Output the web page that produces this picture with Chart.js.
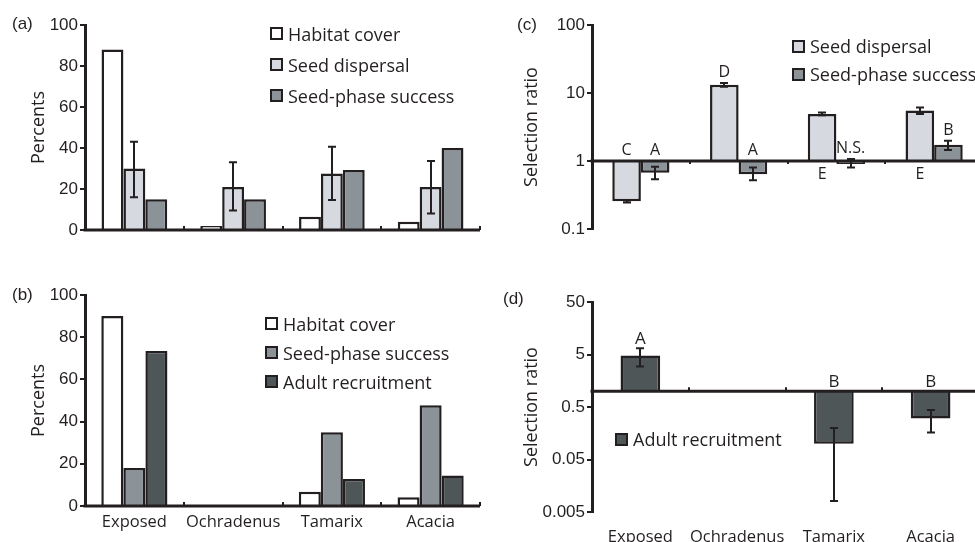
<!DOCTYPE html>
<html>
<head>
<meta charset="utf-8">
<script src="https://cdn.jsdelivr.net/npm/chart.js@4.4.1/dist/chart.umd.min.js"></script>
<style>
  body { margin: 0; width: 975px; height: 542px; overflow: hidden; position: relative; background: #fff; }
  canvas { position: absolute; }
  .panel { position: absolute; font: 17px "Liberation Sans", Arial, sans-serif; color: #231f20; line-height: 20px; }
  .legend { position: absolute; font: 18px "Open Sans", sans-serif; color: #231f20; white-space: nowrap; }
  .legend .row { display: flex; align-items: center; }
  .legend .sw { display: inline-block; width: 13px; height: 13px; box-sizing: border-box; border: 2px solid #231f20; }
</style>
</head>
<body>
<canvas id="chartA" width="490" height="250" style="left:0;top:0"></canvas>
<canvas id="chartB" width="490" height="262" style="left:0;top:280px"></canvas>
<canvas id="chartC" width="490" height="250" style="left:500px;top:0"></canvas>
<canvas id="chartD" width="490" height="280" style="left:500px;top:280px"></canvas>

<div class="panel" style="left:12px;top:14px">(a)</div>
<div class="panel" style="left:12px;top:285px">(b)</div>
<div class="panel" style="left:517px;top:15px">(c)</div>
<div class="panel" style="left:503px;top:289px">(d)</div>

<div class="legend" id="legA" style="left:270px;top:18px"></div>
<div class="legend" id="legB" style="left:265px;top:309px"></div>
<div class="legend" id="legC" style="left:792px;top:32px"></div>
<div class="legend" id="legD" style="left:615px;top:425px"></div>

<script>
// categories
const sites = ["Exposed", "Ochradenus", "Tamarix", "Acacia"];

// (a) percents
const aHabitat = [88, 2, 6.5, 4];
const aDispersal = [30, 21, 27.6, 21];
const aDispersalLow = [16, 9.5, 14.6, 8];
const aDispersalHigh = [43, 33, 40.6, 33.7];
const aSeedPhase = [15, 15, 29.3, 40];

// (b) percents
const bHabitat = [90, 0, 6.8, 4.1];
const bSeedPhase = [18, 0, 35, 47.8];
const bAdult = [73.5, 0, 12.8, 14.4];

// (c) selection ratios
const cDispersal = [0.255, 13.2, 4.93, 5.52];
const cDispersalLow = [0.245, 12.4, 4.7, 4.9];
const cDispersalHigh = [0.265, 14.0, 5.15, 6.1];
const cSeedPhase = [0.67, 0.64, 0.90, 1.74];
const cSeedPhaseLow = [0.54, 0.52, 0.80, 1.45];
const cSeedPhaseHigh = [0.82, 0.80, 1.07, 1.99];
const cDispersalLetters = ["C", "D", "E", "E"];
const cDispersalLetterBelow = [false, false, true, true];
const cSeedPhaseLetters = ["A", "A", "N.S.", "B"];

// (d) selection ratios
const dAdult = [4.8, null, 0.1, 0.303];
const dAdultLow = [2.95, null, 0.0081, 0.164];
const dAdultHigh = [6.6, null, 0.2, 0.44];
const dLetters = ["A", "", "B", "B"];

// tick labels
const percentTicks = [0, 20, 40, 60, 80, 100];
const cTicks = [0.1, 1, 10, 100];
const dTicks = [0.005, 0.05, 0.5, 5, 50];

const ink = '#231f20';
const white = '#ffffff', light = '#d6d9df', mid = '#8b9298', dark = '#4e5658';

Chart.defaults.font.family = '"Open Sans", sans-serif';
Chart.defaults.color = ink;

// axis line at the base value, with small marks between categories
const baseLine = {
  id: 'baseLine',
  afterDatasetsDraw(chart, args, opts) {
    const { ctx, chartArea, scales: { x, y } } = chart;
    const py = y.getPixelForValue(opts.value);
    ctx.save();
    ctx.strokeStyle = ink;
    ctx.lineWidth = 3;
    ctx.beginPath();
    ctx.moveTo(chartArea.left - 1.5, py);
    ctx.lineTo(chartArea.right, py);
    ctx.stroke();
    ctx.lineWidth = 2;
    for (let i = 1; i <= sites.length; i++) {
      const px = Math.round(x.getPixelForValue(i - 0.5));
      ctx.beginPath();
      ctx.moveTo(px, py);
      ctx.lineTo(px, py - opts.tick);
      ctx.stroke();
    }
    ctx.restore();
  }
};

const errorBars = {
  id: 'errorBars',
  afterDatasetsDraw(chart) {
    const { ctx, scales: { y } } = chart;
    ctx.save();
    ctx.strokeStyle = ink;
    ctx.lineWidth = 2;
    chart.data.datasets.forEach((ds, di) => {
      if (!ds.errLow) return;
      chart.getDatasetMeta(di).data.forEach((bar, i) => {
        if (ds.errLow[i] == null) return;
        const y1 = y.getPixelForValue(ds.errLow[i]);
        const y2 = y.getPixelForValue(ds.errHigh[i]);
        const x = Math.round(bar.x);
        ctx.beginPath();
        ctx.moveTo(x, y1); ctx.lineTo(x, y2);
        ctx.moveTo(x - 4, y1); ctx.lineTo(x + 4, y1);
        ctx.moveTo(x - 4, y2); ctx.lineTo(x + 4, y2);
        ctx.stroke();
      });
    });
    ctx.restore();
  }
};

const letters = {
  id: 'letters',
  afterDatasetsDraw(chart, args, opts) {
    if (!opts.size) return;
    const { ctx, scales: { y } } = chart;
    const basePx = y.getPixelForValue(opts.base);
    ctx.save();
    ctx.font = opts.size + 'px "Open Sans"';
    ctx.fillStyle = ink;
    ctx.textAlign = 'center';
    ctx.textBaseline = 'alphabetic';
    chart.data.datasets.forEach((ds, di) => {
      if (!ds.letters) return;
      chart.getDatasetMeta(di).data.forEach((bar, i) => {
        const t = ds.letters[i];
        if (!t) return;
        if (ds.letterBelow && ds.letterBelow[i]) {
          ctx.fillText(t, bar.x, basePx + opts.gap + opts.size * 0.72);
        } else {
          let top = Math.min(basePx, bar.y);
          if (ds.errHigh && ds.errHigh[i] != null) top = Math.min(top, y.getPixelForValue(ds.errHigh[i]));
          ctx.fillText(t, bar.x, top - opts.gap);
        }
      });
    });
    ctx.restore();
  }
};

function panel(id, cfg) {
  return new Chart(document.getElementById(id), {
    type: 'bar',
    data: { labels: sites, datasets: cfg.datasets },
    options: {
      responsive: false,
      animation: false,
      layout: { padding: cfg.padding },
      datasets: {
        bar: {
          categoryPercentage: cfg.catPct, barPercentage: 1,
          borderWidth: 2.5, borderColor: ink, borderSkipped: 'start', base: cfg.base
        }
      },
      plugins: {
        legend: { display: false },
        tooltip: { enabled: false },
        baseLine: { value: cfg.base, tick: cfg.tick },
        letters: { base: cfg.base, size: cfg.letterSize, gap: cfg.letterGap }
      },
      scales: {
        x: {
          display: cfg.showLabels,
          grid: { display: false, drawTicks: false },
          border: { display: false },
          ticks: { font: { size: 16.5 }, color: ink, padding: cfg.labelPad, maxRotation: 0, autoSkip: false },
          afterFit: s => { s.height = cfg.xHeight; }
        },
        y: {
          type: cfg.type,
          min: cfg.ticks[0],
          max: cfg.ticks[cfg.ticks.length - 1],
          afterFit: s => { s.width = cfg.yWidth; },
          afterBuildTicks: s => { s.ticks = cfg.ticks.map(v => ({ value: v })); },
          border: { display: true, color: ink, width: 3 },
          grid: { drawOnChartArea: false, drawTicks: true, tickLength: 5, color: ink, lineWidth: 2 },
          ticks: { font: { family: '"Liberation Sans", Arial', size: 17 }, color: ink, padding: 2, callback: v => String(v) },
          title: { display: true, text: cfg.title, font: { size: 18 }, color: ink, padding: { top: cfg.titlePad, bottom: 0 } }
        }
      }
    },
    plugins: [baseLine, errorBars, letters]
  });
}

function htmlLegend(chart, el, rowH, gap) {
  chart.data.datasets.forEach(ds => {
    const row = document.createElement('div');
    row.className = 'row';
    row.style.height = rowH + 'px';
    const sw = document.createElement('span');
    sw.className = 'sw';
    sw.style.background = ds.backgroundColor;
    sw.style.marginRight = gap + 'px';
    row.append(sw, document.createTextNode(ds.label));
    el.append(row);
  });
}

const chartA = panel('chartA', {
  type: 'linear', ticks: percentTicks, base: 0, tick: 4,
  padding: { top: 25, bottom: 20, left: 0, right: 10 },
  yWidth: 85, catPct: 0.665, showLabels: false, xHeight: 0, labelPad: 0,
  title: 'Percents', titlePad: 28,
  datasets: [
    { label: 'Habitat cover', data: aHabitat, backgroundColor: white },
    { label: 'Seed dispersal', data: aDispersal, backgroundColor: light, errLow: aDispersalLow, errHigh: aDispersalHigh },
    { label: 'Seed-phase success', data: aSeedPhase, backgroundColor: mid }
  ]
});

const chartB = panel('chartB', {
  type: 'linear', ticks: percentTicks, base: 0, tick: 4,
  padding: { top: 15, bottom: 0, left: 0, right: 10 },
  yWidth: 85, catPct: 0.67, showLabels: true, xHeight: 36, labelPad: 6,
  title: 'Percents', titlePad: 28,
  datasets: [
    { label: 'Habitat cover', data: bHabitat, backgroundColor: white },
    { label: 'Seed-phase success', data: bSeedPhase, backgroundColor: mid },
    { label: 'Adult recruitment', data: bAdult, backgroundColor: dark }
  ]
});

const chartC = panel('chartC', {
  type: 'logarithmic', ticks: cTicks, base: 1, tick: -3,
  padding: { top: 25, bottom: 21, left: 0, right: 7 },
  yWidth: 92, catPct: 0.585, showLabels: false, xHeight: 0, labelPad: 0,
  title: 'Selection ratio', titlePad: 21, letterSize: 16, letterGap: 6,
  datasets: [
    { label: 'Seed dispersal', data: cDispersal, backgroundColor: light, errLow: cDispersalLow, errHigh: cDispersalHigh,
      letters: cDispersalLetters, letterBelow: cDispersalLetterBelow },
    { label: 'Seed-phase success', data: cSeedPhase, backgroundColor: mid, errLow: cSeedPhaseLow, errHigh: cSeedPhaseHigh,
      letters: cSeedPhaseLetters }
  ]
});

const chartD = panel('chartD', {
  type: 'logarithmic', ticks: dTicks, base: 1, tick: 4,
  padding: { top: 22, bottom: 0, left: 0, right: 11 },
  yWidth: 92, catPct: 0.41, showLabels: true, xHeight: 48, labelPad: 15,
  title: 'Selection ratio', titlePad: 21, letterSize: 17, letterGap: 4,
  datasets: [
    { label: 'Adult recruitment', data: dAdult, backgroundColor: dark, errLow: dAdultLow, errHigh: dAdultHigh, letters: dLetters }
  ]
});

htmlLegend(chartA, document.getElementById('legA'), 31, 5);
htmlLegend(chartB, document.getElementById('legB'), 29, 5);
htmlLegend(chartC, document.getElementById('legC'), 28, 5);
htmlLegend(chartD, document.getElementById('legD'), 28, 5);
</script>
</body>
</html>
